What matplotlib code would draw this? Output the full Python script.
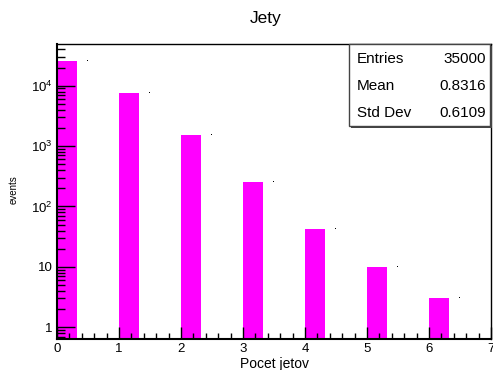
import matplotlib.pyplot as plt
from matplotlib.ticker import FixedLocator, MultipleLocator, NullFormatter
import numpy as np

plt.rcParams['font.family'] = ['Liberation Sans', 'DejaVu Sans']
plt.rcParams['mathtext.fontset'] = 'custom'
plt.rcParams['mathtext.rm'] = 'Liberation Sans'

# hodnoty histogramu (pocet jetov)
n_jets = [0, 1, 2, 3, 4, 5, 6]
counts = [26000, 7600, 1520, 250, 43, 10, 3]
stat_names = ['Entries', 'Mean', 'Std Dev']
stat_values = ['35000', '0.8316', '0.6109']

ymin, ymax = 0.64, 4.9e4
bar_w = 0.32

fig = plt.figure(figsize=(4.93, 3.70), dpi=100)
ax = fig.add_axes([57 / 493, 1 - 339 / 370, 434 / 493, 295 / 370])

x = np.array(n_jets, dtype=float)
ax.bar(x, np.array(counts) - ymin, bar_w, bottom=ymin, align='edge',
       color='#ff00ff', edgecolor='none')
ax.plot(x + 0.48, counts, 'k,', linestyle='none')

ax.set_yscale('log')
ax.set_xlim(0, 7)
ax.set_ylim(ymin, ymax)

ax.set_yticks([1, 10, 100, 1000, 10000])
ax.set_yticklabels(['1', '10', r'$10^2$', r'$10^3$', r'$10^4$'])
ax.yaxis.set_minor_locator(FixedLocator(
    [m * 10 ** e for e in range(-1, 5) for m in range(2, 10)]))
ax.yaxis.set_minor_formatter(NullFormatter())
ax.xaxis.set_major_locator(MultipleLocator(1))
ax.xaxis.set_minor_locator(MultipleLocator(0.2))

ax.tick_params(which='both', direction='in', top=False, right=False,
               labelsize=9.5, width=1, color='black')
ax.tick_params(axis='y', which='major', length=13, pad=3)
ax.tick_params(axis='y', which='minor', length=6)
ax.tick_params(axis='x', which='major', length=9, pad=3)
ax.tick_params(axis='x', which='minor', length=4.5)
for s in ax.spines.values():
    s.set_linewidth(1)
ax.spines['left'].set_linewidth(1.5)
ax.spines['bottom'].set_linewidth(1.5)

fig.text(266 / 493, 1 - 18 / 370, 'Jety', ha='center', va='center', fontsize=12.5)
ax.set_xlabel('Pocet jetov', fontsize=10, labelpad=1)
fig.text(14 / 493, 1 - 190 / 370, 'events', rotation=90, ha='center',
         va='center', fontsize=7)

# statisticky box
bx0, bx1, by0, by1 = 349 / 493, 490 / 493, 1 - 126 / 370, 1 - 44 / 370
fig.patches.append(plt.Rectangle((bx0 + 2 / 493, by0 - 2 / 370), bx1 - bx0, by1 - by0,
                                 transform=fig.transFigure, facecolor='#444444',
                                 edgecolor='none', zorder=5))
fig.patches.append(plt.Rectangle((bx0, by0), bx1 - bx0, by1 - by0,
                                 transform=fig.transFigure, facecolor='white',
                                 edgecolor='#444444', linewidth=1, zorder=6))
for i, (nm, val) in enumerate(zip(stat_names, stat_values)):
    yy = 1 - (59 + 27 * i) / 370
    fig.text(357 / 493, yy, nm, ha='left', va='center', fontsize=11, zorder=7)
    fig.text(486 / 493, yy, val, ha='right', va='center', fontsize=11, zorder=7)

fig.savefig('out.png', dpi=100)
